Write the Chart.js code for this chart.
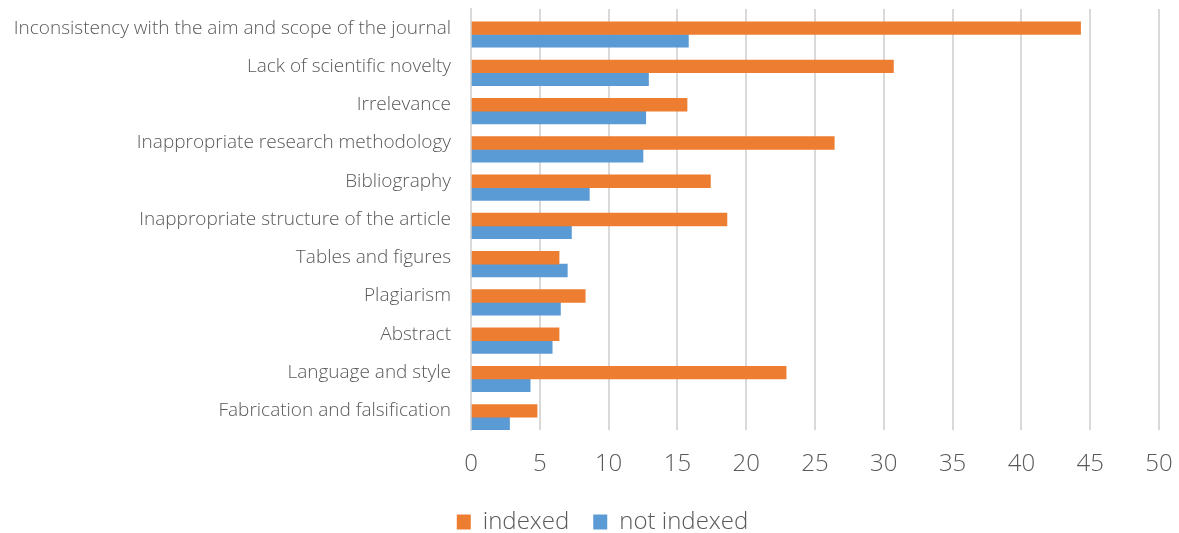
<!DOCTYPE html>
<html>
<head>
<meta charset="utf-8">
<script src="https://cdn.jsdelivr.net/npm/chart.js@4/dist/chart.umd.min.js"></script>
<style>
  html, body { margin: 0; padding: 0; background: #ffffff; }
  #wrap { width: 1179px; height: 533px; position: relative; }
</style>
</head>
<body>
<div id="wrap"><canvas id="c"></canvas></div>
<script>
// Reasons for rejection, in display order (top to bottom)
const categories = [
  'Inconsistency with the aim and scope of the journal',
  'Lack of scientific novelty',
  'Irrelevance',
  'Inappropriate research methodology',
  'Bibliography',
  'Inappropriate structure of the article',
  'Tables and figures',
  'Plagiarism',
  'Abstract',
  'Language and style',
  'Fabrication and falsification'
];
const indexed    = [44.3, 30.7, 15.7, 26.4, 17.4, 18.6, 6.4, 8.3, 6.4, 22.9, 4.8];
const notIndexed = [15.8, 12.9, 12.7, 12.5, 8.6, 7.3, 7.0, 6.5, 5.9, 4.3, 2.8];
const xTicks = [0, 5, 10, 15, 20, 25, 30, 35, 40, 45, 50];

const textColor = '#595959';
const fontFamily = "'Open Sans', 'Liberation Sans', sans-serif";

// Legend band: fixed height, nudged right under the plot
const legendBand = {
  id: 'legendBand',
  afterInit(chart) {
    const lg = chart.legend;
    if (!lg) return;
    const origFit = lg.fit.bind(lg);
    lg.fit = function () { origFit(); this.height = 47; };
  },
  afterLayout(chart) {
    const lg = chart.legend;
    if (!lg) return;
    lg.left += 23;
    lg.right += 23;
  }
};

new Chart(document.getElementById('c'), {
  type: 'bar',
  data: {
    labels: categories,
    datasets: [
      // empty spacer slot so each bar pair sits in the lower part of its row
      { label: '', data: [], backgroundColor: 'rgba(0,0,0,0)', borderWidth: 0 },
      { label: 'indexed', data: indexed, backgroundColor: '#ED7D31', borderWidth: 0 },
      { label: 'not indexed', data: notIndexed, backgroundColor: '#5B9BD5', borderWidth: 0 }
    ]
  },
  plugins: [legendBand],
  options: {
    indexAxis: 'y',
    responsive: true,
    maintainAspectRatio: false,
    animation: false,
    layout: { padding: { left: 0, right: 20, top: 9, bottom: 0 } },
    datasets: { bar: { categoryPercentage: 1.0, barPercentage: 1.0 } },
    scales: {
      x: {
        min: 0,
        max: 50,
        afterBuildTicks: (scale) => { scale.ticks = xTicks.map(v => ({ value: v })); },
        grid: { color: '#d9d9d9', lineWidth: 2, drawTicks: false },
        border: { display: false },
        ticks: {
          color: textColor,
          padding: 20,
          font: { family: fontFamily, size: 24, weight: 300 }
        },
        afterFit: (scale) => {
          const legendH = scale.chart.legend ? scale.chart.legend.height : 0;
          scale.height = 533 - 430 - legendH;
          scale.paddingLeft = 0;
          scale.paddingRight = 0;
        }
      },
      y: {
        grid: { display: false, drawTicks: false },
        border: { display: true, color: '#d9d9d9', width: 2 },
        ticks: {
          color: textColor,
          padding: 20,
          font: { family: fontFamily, size: 19, weight: 300 }
        },
        afterFit: (scale) => {
          scale.width = 471;
          scale.paddingTop = 0;
          scale.paddingBottom = 0;
        }
      }
    },
    plugins: {
      legend: {
        position: 'bottom',
        labels: {
          color: textColor,
          boxWidth: 14,
          boxHeight: 15,
          padding: 24,
          filter: (item) => item.text !== '',
          font: { family: fontFamily, size: 24, weight: 300 }
        }
      },
      tooltip: { enabled: false }
    }
  }
});
</script>
</body>
</html>
